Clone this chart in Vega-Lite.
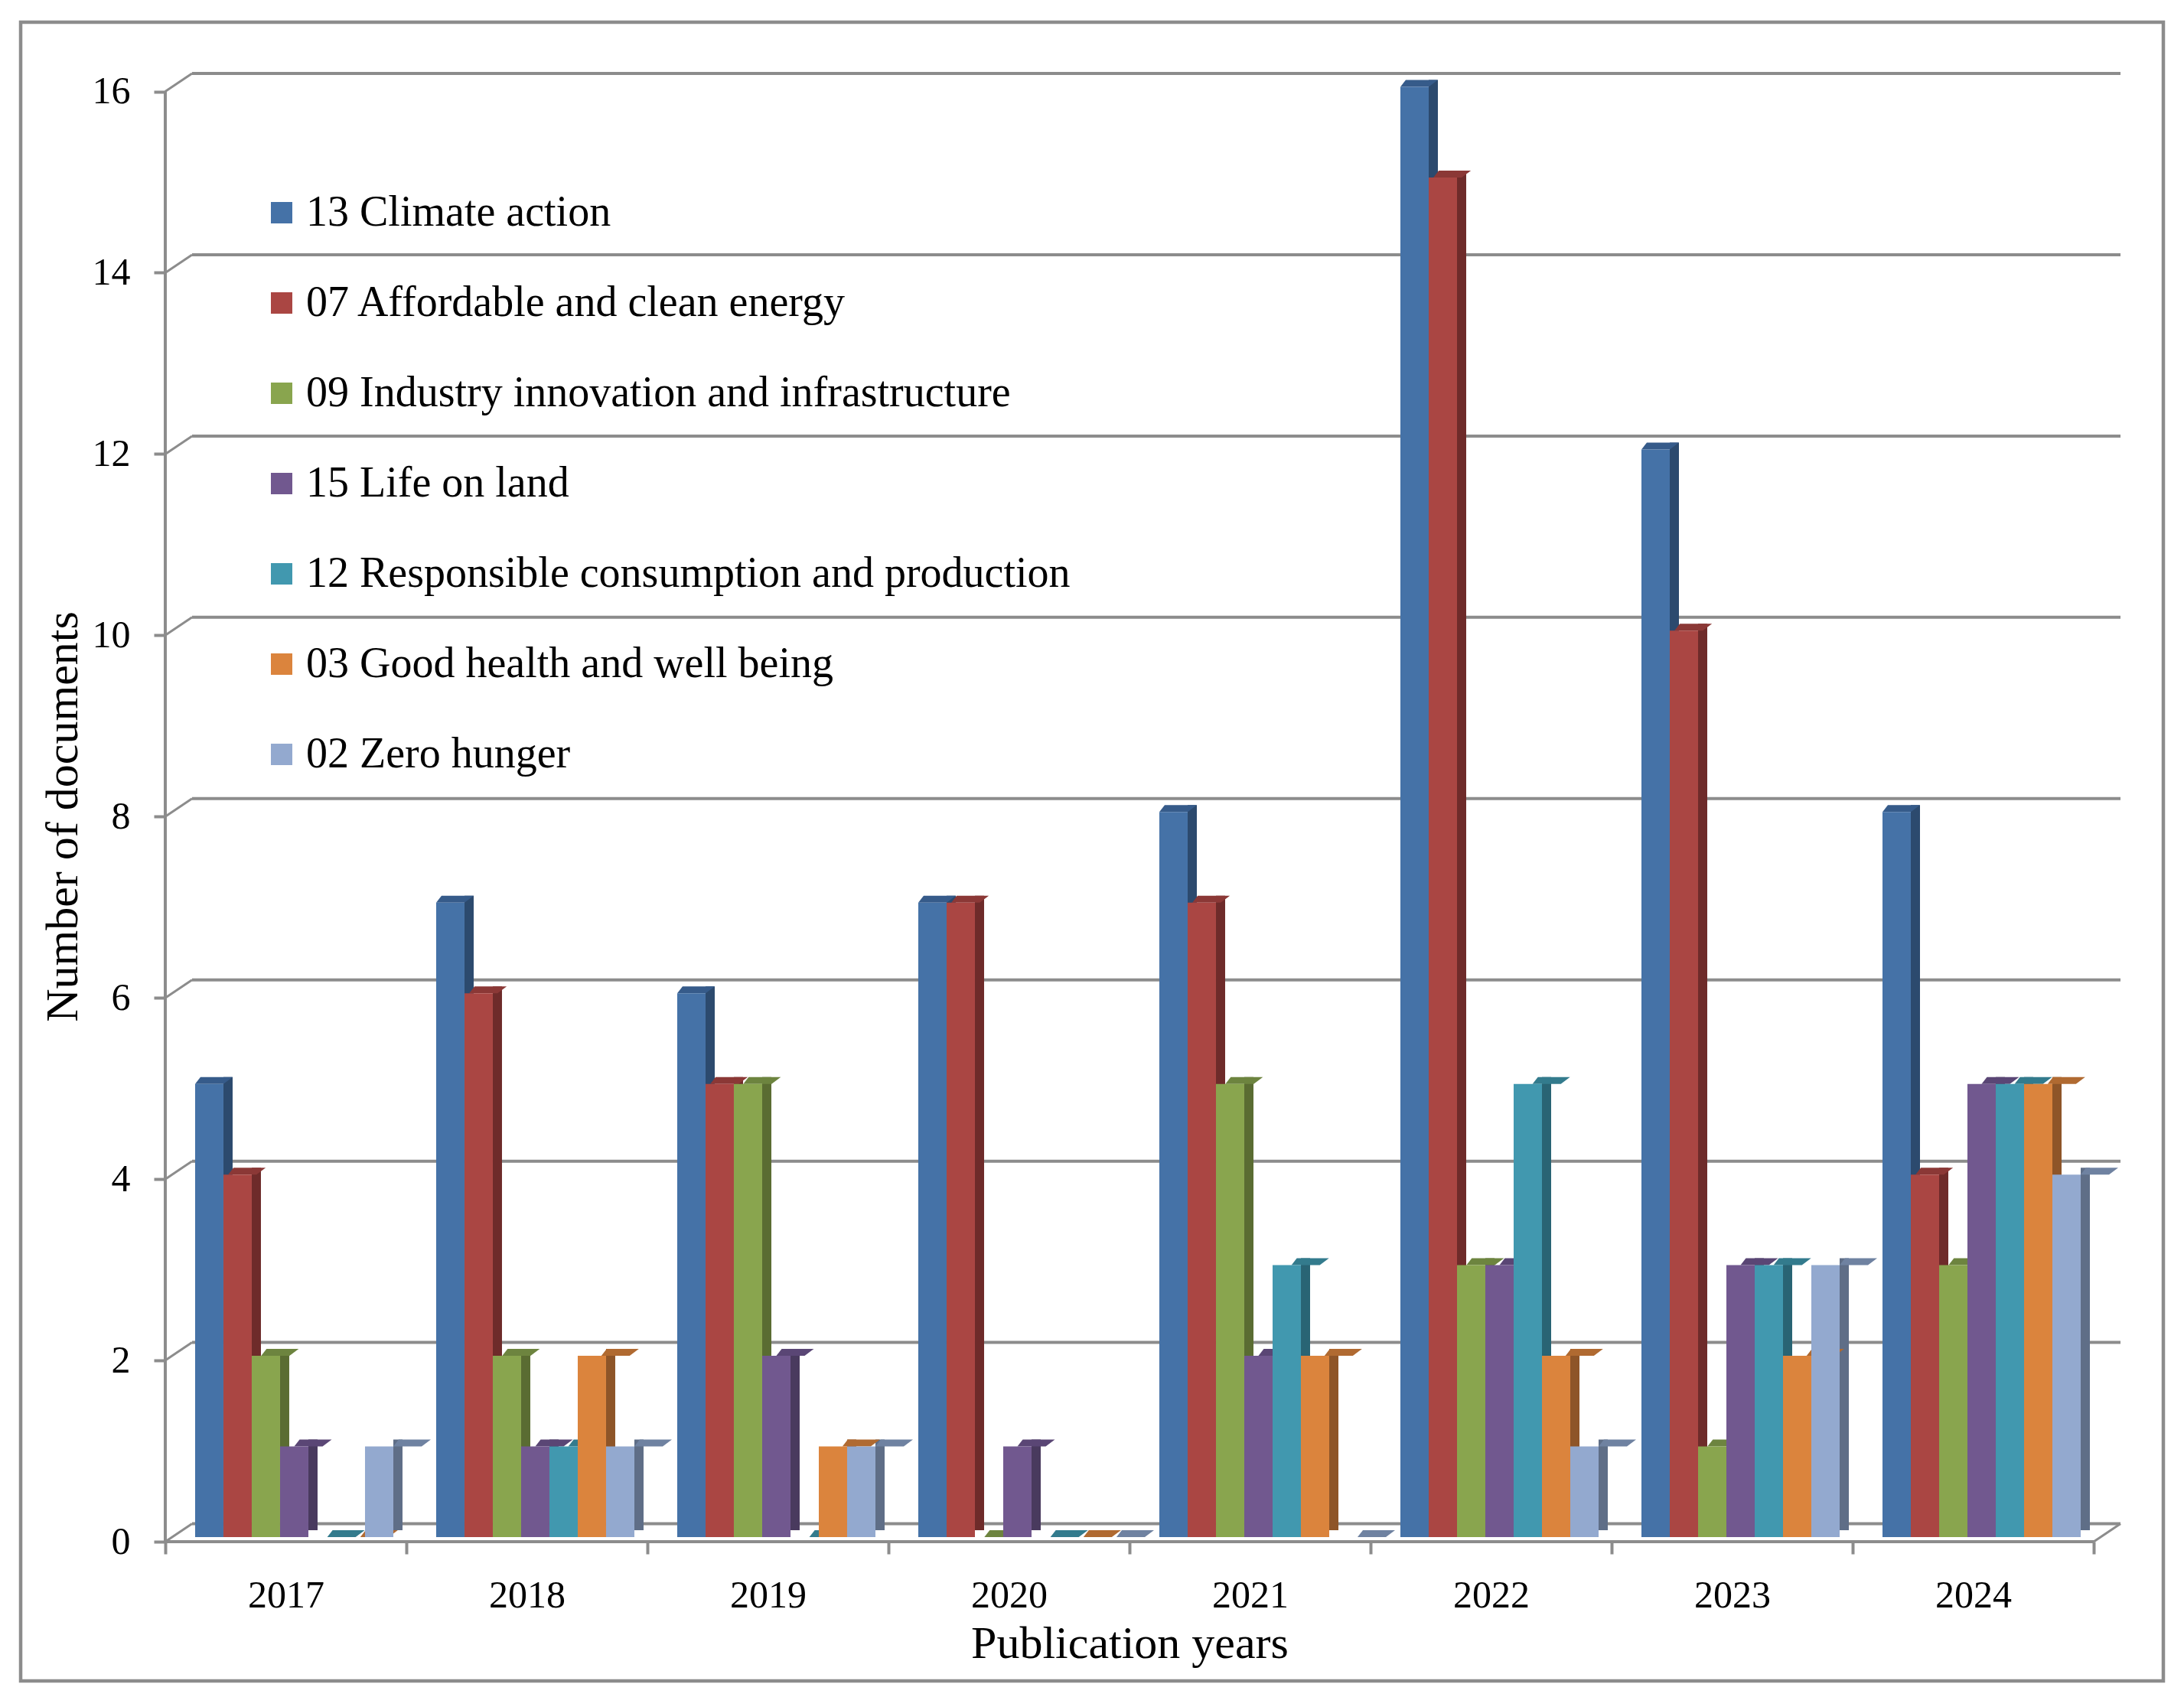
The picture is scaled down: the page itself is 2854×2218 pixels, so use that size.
{
  "$schema": "https://vega.github.io/schema/vega-lite/v6.json",
  "width": 2800,
  "height": 2168,
  "autosize": {"type": "none"},
  "padding": {"left": 27, "top": 29, "right": 27, "bottom": 21},
  "background": "white",
  "config": {
    "font": "Liberation Serif",
    "view": {"stroke": "#8c8c8c", "strokeWidth": 4.5},
    "axis": {"labelFont": "Liberation Serif", "titleFont": "Liberation Serif", "labelColor": "black", "titleColor": "black", "titleFontWeight": "normal", "grid": false}
  },
  "datasets": {
    "docs": [
      {"year": "2017", "sdg": "13 Climate action", "docs": 5},
      {"year": "2017", "sdg": "07 Affordable and clean energy", "docs": 4},
      {"year": "2017", "sdg": "09 Industry innovation and infrastructure", "docs": 2},
      {"year": "2017", "sdg": "15 Life on land", "docs": 1},
      {"year": "2017", "sdg": "12 Responsible consumption and production", "docs": 0},
      {"year": "2017", "sdg": "03 Good health and well being", "docs": 0},
      {"year": "2017", "sdg": "02 Zero hunger", "docs": 1},
      {"year": "2018", "sdg": "13 Climate action", "docs": 7},
      {"year": "2018", "sdg": "07 Affordable and clean energy", "docs": 6},
      {"year": "2018", "sdg": "09 Industry innovation and infrastructure", "docs": 2},
      {"year": "2018", "sdg": "15 Life on land", "docs": 1},
      {"year": "2018", "sdg": "12 Responsible consumption and production", "docs": 1},
      {"year": "2018", "sdg": "03 Good health and well being", "docs": 2},
      {"year": "2018", "sdg": "02 Zero hunger", "docs": 1},
      {"year": "2019", "sdg": "13 Climate action", "docs": 6},
      {"year": "2019", "sdg": "07 Affordable and clean energy", "docs": 5},
      {"year": "2019", "sdg": "09 Industry innovation and infrastructure", "docs": 5},
      {"year": "2019", "sdg": "15 Life on land", "docs": 2},
      {"year": "2019", "sdg": "12 Responsible consumption and production", "docs": 0},
      {"year": "2019", "sdg": "03 Good health and well being", "docs": 1},
      {"year": "2019", "sdg": "02 Zero hunger", "docs": 1},
      {"year": "2020", "sdg": "13 Climate action", "docs": 7},
      {"year": "2020", "sdg": "07 Affordable and clean energy", "docs": 7},
      {"year": "2020", "sdg": "09 Industry innovation and infrastructure", "docs": 0},
      {"year": "2020", "sdg": "15 Life on land", "docs": 1},
      {"year": "2020", "sdg": "12 Responsible consumption and production", "docs": 0},
      {"year": "2020", "sdg": "03 Good health and well being", "docs": 0},
      {"year": "2020", "sdg": "02 Zero hunger", "docs": 0},
      {"year": "2021", "sdg": "13 Climate action", "docs": 8},
      {"year": "2021", "sdg": "07 Affordable and clean energy", "docs": 7},
      {"year": "2021", "sdg": "09 Industry innovation and infrastructure", "docs": 5},
      {"year": "2021", "sdg": "15 Life on land", "docs": 2},
      {"year": "2021", "sdg": "12 Responsible consumption and production", "docs": 3},
      {"year": "2021", "sdg": "03 Good health and well being", "docs": 2},
      {"year": "2021", "sdg": "02 Zero hunger", "docs": 0},
      {"year": "2022", "sdg": "13 Climate action", "docs": 16},
      {"year": "2022", "sdg": "07 Affordable and clean energy", "docs": 15},
      {"year": "2022", "sdg": "09 Industry innovation and infrastructure", "docs": 3},
      {"year": "2022", "sdg": "15 Life on land", "docs": 3},
      {"year": "2022", "sdg": "12 Responsible consumption and production", "docs": 5},
      {"year": "2022", "sdg": "03 Good health and well being", "docs": 2},
      {"year": "2022", "sdg": "02 Zero hunger", "docs": 1},
      {"year": "2023", "sdg": "13 Climate action", "docs": 12},
      {"year": "2023", "sdg": "07 Affordable and clean energy", "docs": 10},
      {"year": "2023", "sdg": "09 Industry innovation and infrastructure", "docs": 1},
      {"year": "2023", "sdg": "15 Life on land", "docs": 3},
      {"year": "2023", "sdg": "12 Responsible consumption and production", "docs": 3},
      {"year": "2023", "sdg": "03 Good health and well being", "docs": 2},
      {"year": "2023", "sdg": "02 Zero hunger", "docs": 3},
      {"year": "2024", "sdg": "13 Climate action", "docs": 8},
      {"year": "2024", "sdg": "07 Affordable and clean energy", "docs": 4},
      {"year": "2024", "sdg": "09 Industry innovation and infrastructure", "docs": 3},
      {"year": "2024", "sdg": "15 Life on land", "docs": 5},
      {"year": "2024", "sdg": "12 Responsible consumption and production", "docs": 5},
      {"year": "2024", "sdg": "03 Good health and well being", "docs": 5},
      {"year": "2024", "sdg": "02 Zero hunger", "docs": 4}
    ],
    "grid": [{"g": 0}, {"g": 2}, {"g": 4}, {"g": 6}, {"g": 8}, {"g": 10}, {"g": 12}, {"g": 14}, {"g": 16}]
  },
  "resolve": {"scale": {"color": "independent", "xOffset": "independent"}},
  "layer": [
    {
      "data": {"name": "grid"},
      "mark": {"type": "rule", "color": "#8c8c8c", "strokeWidth": 4, "xOffset": 35, "x2Offset": 35, "yOffset": -23.5, "y2Offset": -23.5},
      "encoding": {
        "x": {"datum": "2017", "type": "nominal", "bandPosition": 0},
        "x2": {"datum": "2024", "bandPosition": 1},
        "y": {"field": "g", "type": "quantitative"}
      }
    },
    {
      "data": {"name": "grid"},
      "mark": {"type": "rule", "color": "#8c8c8c", "strokeWidth": 3, "x2Offset": 35, "y2Offset": -23.5},
      "encoding": {
        "x": {"datum": "2017", "type": "nominal", "bandPosition": 0},
        "x2": {"datum": "2017", "bandPosition": 0},
        "y": {"field": "g", "type": "quantitative"},
        "y2": {"field": "g"}
      }
    },
    {
      "data": {"values": [{"g": 0}]},
      "mark": {"type": "rule", "color": "#8c8c8c", "strokeWidth": 3, "x2Offset": 35, "y2Offset": -23.5},
      "encoding": {
        "x": {"datum": "2024", "type": "nominal", "bandPosition": 1},
        "x2": {"datum": "2024", "bandPosition": 1},
        "y": {"field": "g", "type": "quantitative"},
        "y2": {"field": "g"}
      }
    },
    {
      "data": {"values": [{"lo": 0, "hi": 16}]},
      "mark": {"type": "rule", "color": "#8c8c8c", "strokeWidth": 4},
      "encoding": {
        "x": {"datum": "2017", "type": "nominal", "bandPosition": 0},
        "y": {"field": "lo", "type": "quantitative"},
        "y2": {"field": "hi"}
      }
    },
    {
      "data": {"values": [{"lo": 0}]},
      "mark": {"type": "rule", "color": "#8c8c8c", "strokeWidth": 4},
      "encoding": {
        "x": {"datum": "2017", "type": "nominal", "bandPosition": 0},
        "x2": {"datum": "2024", "bandPosition": 1},
        "y": {"field": "lo", "type": "quantitative"}
      }
    },
    {
      "data": {"name": "docs"},
      "mark": {"type": "bar", "width": 12, "yOffset": -15, "y2Offset": -10.5},
      "encoding": {
        "x": {"field": "year", "type": "nominal"},
        "xOffset": {"field": "sdg", "type": "nominal", "sort": null, "scale": {"domain": ["13 Climate action", "07 Affordable and clean energy", "09 Industry innovation and infrastructure", "15 Life on land", "12 Responsible consumption and production", "03 Good health and well being", "02 Zero hunger"], "range": [63.5, 322.5], "paddingInner": 0, "paddingOuter": 0}},
        "y": {"field": "docs", "type": "quantitative"},
        "color": {"field": "sdg", "type": "nominal", "legend": null, "scale": {"domain": ["13 Climate action", "07 Affordable and clean energy", "09 Industry innovation and infrastructure", "15 Life on land", "12 Responsible consumption and production", "03 Good health and well being", "02 Zero hunger"], "range": ["#2c4a6e", "#6e2b2a", "#5a6c32", "#493a5e", "#296474", "#8e5528", "#5f6e87"]}}
      }
    },
    {
      "data": {"name": "docs"},
      "mark": {"type": "point", "shape": "M 0 0 L 0.74 0 L 0.98 -0.18 L 0.14 -0.18 Z", "size": 10000, "filled": true, "opacity": 1, "strokeWidth": 0, "yOffset": -6},
      "encoding": {
        "x": {"field": "year", "type": "nominal"},
        "xOffset": {"field": "sdg", "type": "nominal", "sort": null, "scale": {"domain": ["13 Climate action", "07 Affordable and clean energy", "09 Industry innovation and infrastructure", "15 Life on land", "12 Responsible consumption and production", "03 Good health and well being", "02 Zero hunger"], "range": [39, 298], "paddingInner": 0, "paddingOuter": 0}},
        "y": {"field": "docs", "type": "quantitative"},
        "color": {"field": "sdg", "type": "nominal", "legend": null, "scale": {"domain": ["13 Climate action", "07 Affordable and clean energy", "09 Industry innovation and infrastructure", "15 Life on land", "12 Responsible consumption and production", "03 Good health and well being", "02 Zero hunger"], "range": ["#365b8a", "#8b3836", "#6d843f", "#5a4675", "#337b8d", "#b06a31", "#6f82a1"]}}
      }
    },
    {
      "data": {"name": "docs"},
      "mark": {"type": "bar", "yOffset": -6, "y2Offset": -6},
      "encoding": {
        "x": {
          "field": "year",
          "type": "nominal",
          "scale": {"domain": ["2017", "2018", "2019", "2020", "2021", "2022", "2023", "2024"], "paddingInner": 0, "paddingOuter": 0.4444, "align": 0.675},
          "axis": {"title": "Publication years", "orient": "bottom", "offset": -182, "domain": false, "tickBand": "extent", "bandPosition": 0.5, "tickSize": 16, "tickWidth": 4, "tickColor": "#8c8c8c", "labelPadding": 54, "labelFont": "Liberation Serif", "labelFontSize": 50, "labelAngle": 0, "labelAlign": "center", "titleFontSize": 60, "titleX": 1449, "titleY": 133, "titleBaseline": "middle"}
        },
        "xOffset": {"field": "sdg", "type": "nominal", "sort": null, "scale": {"domain": ["13 Climate action", "07 Affordable and clean energy", "09 Industry innovation and infrastructure", "15 Life on land", "12 Responsible consumption and production", "03 Good health and well being", "02 Zero hunger"], "range": [39, 298], "paddingInner": 0, "paddingOuter": 0}},
        "y": {
          "field": "docs",
          "type": "quantitative",
          "scale": {"domain": [-1.536, 16.764], "nice": false, "zero": false},
          "axis": {"title": "Number of documents", "orient": "left", "offset": -189, "domain": false, "values": [0, 2, 4, 6, 8, 10, 12, 14, 16], "format": "d", "tickSize": 15, "tickWidth": 4, "tickColor": "#8c8c8c", "labelPadding": 31, "labelFont": "Liberation Serif", "labelFontSize": 50, "titleFontSize": 60, "titleX": -134, "titleY": 1038, "titleBaseline": "middle"}
        },
        "color": {
          "field": "sdg",
          "type": "nominal",
          "scale": {"domain": ["13 Climate action", "07 Affordable and clean energy", "09 Industry innovation and infrastructure", "15 Life on land", "12 Responsible consumption and production", "03 Good health and well being", "02 Zero hunger"], "range": ["#4572a7", "#aa4643", "#89a54e", "#71588f", "#4198af", "#db843d", "#93a9cf"]},
          "legend": {"orient": "none", "legendX": 313, "legendY": 221, "title": null, "padding": 0, "symbolType": "square", "symbolSize": 784, "symbolStrokeWidth": 0, "symbolOpacity": 1, "labelFont": "Liberation Serif", "labelFontSize": 56, "labelColor": "black", "labelLimit": 0, "labelOffset": 4, "rowPadding": 62}
        }
      }
    }
  ]
}
